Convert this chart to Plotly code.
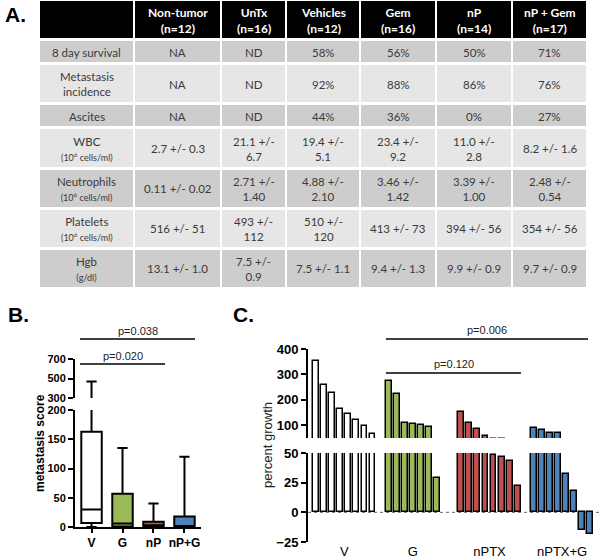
import plotly.graph_objects as go

# ---- panel A: table ----
tbl_header = ["", "Non-tumor<br>(n=12)", "UnTx<br>(n=16)", "Vehicles<br>(n=12)",
              "Gem<br>(n=16)", "nP<br>(n=14)", "nP + Gem<br>(n=17)"]
sub = "<span style='font-size:9px'>(10<sup>6</sup> cells/ml)</span>"
row_labels = ["8 day survival", "Metastasis<br>incidence", "Ascites",
              "WBC<br>" + sub, "Neutrophils<br>" + sub, "Platelets<br>" + sub,
              "Hgb<br><span style='font-size:9px'>(g/dl)</span>"]
non_tumor = ["NA", "NA", "NA", "2.7 +/- 0.3", "0.11 +/- 0.02", "516 +/- 51", "13.1 +/- 1.0"]
untx = ["ND", "ND", "ND", "21.1 +/-<br>6.7", "2.71 +/-<br>1.40", "493 +/-<br>112", "7.5 +/-<br>0.9"]
vehicles = ["58%", "92%", "44%", "19.4 +/-<br>5.1", "4.88 +/-<br>2.10", "510 +/-<br>120", "7.5 +/- 1.1"]
gem = ["56%", "88%", "36%", "23.4 +/-<br>9.2", "3.46 +/-<br>1.42", "413 +/- 73", "9.4 +/- 1.3"]
np_ = ["50%", "86%", "0%", "11.0 +/-<br>2.8", "3.39 +/-<br>1.00", "394 +/- 56", "9.9 +/- 0.9"]
np_gem = ["71%", "76%", "27%", "8.2 +/- 1.6", "2.48 +/-<br>0.54", "354 +/- 56", "9.7 +/- 0.9"]

# ---- panel B: box plot (metastasis score) ----
box_groups = ["V", "G", "nP", "nP+G"]
box_q1 = [7, 1, 0, 0]
box_median = [30, 6, 3, 0]
box_q3 = [163, 57, 9, 18]
box_low = [0, 0, 0, 0]
box_high = [470, 135, 40, 120]
box_colors = ["white", "#9bbb59", "#c0504d", "#4f81bd"]

# ---- panel C: waterfall (percent growth) ----
growth_labels = ["V", "G", "nPTX", "nPTX+G"]
growth_V = [352, 260, 228, 164, 144, 120, 96, 64]
growth_G = [275, 222, 110, 104, 102, 95, 29]
growth_nP = [152, 108, 84, 56, 48, 47, 43, 22]
growth_nPG = [88, 81, 70, 68, 32, 18, -15, -18]
growth_colors = ["white", "#9bbb59", "#c0504d", "#4f81bd"]
gaps = [1, 2, 1]  # empty slots between groups

fig = go.Figure()

# table drawn as a heatmap of cells (column widths / row heights in px)
col_w = [95, 87, 65, 74, 76, 76, 75]
row_h = [40, 24, 40, 24, 40, 40, 40, 40]
x_edges = [sum(col_w[:i]) for i in range(len(col_w) + 1)]
y_edges = [sum(row_h[:i]) for i in range(len(row_h) + 1)]
columns = [row_labels, non_tumor, untx, vehicles, gem, np_, np_gem]
z = [[2] * len(col_w)] + [[1 - (r % 2)] * len(col_w) for r in range(len(row_labels))]

fig.add_trace(go.Heatmap(
    x=x_edges, y=y_edges, z=z, zmin=0, zmax=2, xgap=2, ygap=3,
    colorscale=[[0, "#e6e6e6"], [0.5, "#cdcdcd"], [1, "black"]],
    showscale=False, hoverinfo="skip", xaxis="x3", yaxis="y5"))

for c in range(len(col_w)):
    xm = (x_edges[c] + x_edges[c + 1]) / 2
    if tbl_header[c]:
        fig.add_annotation(text="<b>%s</b>" % tbl_header[c], x=xm,
                           y=(y_edges[0] + y_edges[1]) / 2, xref="x3", yref="y5",
                           showarrow=False, font=dict(family="Lato", size=12, color="white"))
    for r, val in enumerate(columns[c]):
        fig.add_annotation(text=val, x=xm, y=(y_edges[r + 1] + y_edges[r + 2]) / 2,
                           xref="x3", yref="y5", showarrow=False,
                           font=dict(family="Lato", size=11.5, color="#3a3a3a"))

# B: each box drawn on both halves of the broken axis
for i, g in enumerate(box_groups):
    for ya in ["y", "y2"]:
        fig.add_trace(go.Box(
            x=[g], q1=[box_q1[i]], median=[box_median[i]], q3=[box_q3[i]],
            lowerfence=[box_low[i]], upperfence=[box_high[i]],
            fillcolor=box_colors[i], line=dict(color="black", width=2),
            whiskerwidth=0.5, width=0.66, boxpoints=False,
            xaxis="x", yaxis=ya, showlegend=False, hoverinfo="skip"))

# C: bar positions in slots
groups = [growth_V, growth_G, growth_nP, growth_nPG]
pos = 0
centers = []
for k, vals in enumerate(groups):
    xs = list(range(pos, pos + len(vals)))
    centers.append((xs[0] + xs[-1]) / 2)
    for ya in ["y3", "y4"]:
        fig.add_trace(go.Bar(
            x=xs, y=vals, width=0.72,
            marker=dict(color=growth_colors[k], line=dict(color="black", width=1.5)),
            xaxis="x2", yaxis=ya, showlegend=False, hoverinfo="skip"))
    pos += len(vals)
    if k < len(gaps):
        pos += gaps[k]

tick_b = dict(family="Liberation Sans", size=11, color="black", weight="bold")
tick_c = dict(family="Liberation Sans", size=13, color="black", weight="bold")
yax_common = dict(showline=True, linecolor="black", linewidth=2, ticks="outside",
                  ticklen=5, tickwidth=2, tickcolor="black", showgrid=False,
                  zeroline=False, fixedrange=True, automargin=False)

fig.update_layout(
    template="none",
    width=600, height=560, margin=dict(l=0, r=0, t=0, b=0, pad=0),
    paper_bgcolor="white", plot_bgcolor="white",
    bargap=0, barmode="overlay", showlegend=False,
    xaxis3=dict(domain=[39/600, 587/600], range=[0, x_edges[-1]], anchor="y5",
                visible=False, fixedrange=True, automargin=False),
    yaxis5=dict(domain=[1 - 289/560, 1.0], range=[y_edges[-1], 0], anchor="x3",
                visible=False, fixedrange=True, automargin=False),
    xaxis=dict(domain=[75/600, 201/600], anchor="y", type="category",
               categoryorder="array", categoryarray=box_groups,
               showline=True, linecolor="black", linewidth=2, ticks="outside",
               ticklen=4, tickwidth=2, tickcolor="black", showgrid=False,
               tickfont=dict(tick_b, size=12), automargin=False, fixedrange=True),
    yaxis=dict(domain=[1 - 527/560, 1 - 410/560], range=[0, 200], anchor="x",
               tickvals=[0, 50, 100, 150, 200], tickfont=tick_b, **yax_common),
    yaxis2=dict(domain=[1 - 398/560, 1 - 359/560], range=[300, 700], anchor="x",
                tickvals=[300, 500, 700], tickfont=tick_b, **yax_common),
    xaxis2=dict(domain=[308/600, 1.0], anchor="y4", range=[-1, 35.2],
                showline=False, showgrid=False, zeroline=False, ticks="",
                tickvals=centers, ticktext=growth_labels, automargin=False,
                fixedrange=True,
                tickfont=dict(family="Liberation Sans", size=13, color="black")),
    yaxis3=dict(domain=[1 - 438/560, 1 - 349/560], range=[50, 400], anchor="x2",
                tickvals=[100, 200, 300, 400], tickfont=tick_c, **yax_common),
    yaxis4=dict(domain=[1 - 542/560, 1 - 453/560], range=[-25, 50], anchor="x2",
                tickvals=[-25, 0, 25, 50], tickfont=tick_c, **yax_common),
)

# dotted zero line behind the bars
fig.add_shape(type="line", xref="x2 domain", x0=0, x1=1, yref="y4", y0=0, y1=0,
              line=dict(color="#666666", width=1, dash="dot"), layer="below")

# significance brackets
for x0, x1, y, txt, ty in [(80, 195, 339, "p=0.038", 331), (80, 165, 364, "p=0.020", 356),
                           (386, 588, 339, "p=0.006", 330), (386, 521, 373, "p=0.120", 364)]:
    fig.add_shape(type="line", xref="paper", yref="paper", x0=x0/600, x1=x1/600,
                  y0=1 - y/560, y1=1 - y/560, line=dict(color="black", width=1.5))
    fig.add_annotation(text=txt, xref="paper", yref="paper", x=(x0 + x1) / 2 / 600,
                       y=1 - ty/560, showarrow=False, xanchor="center", yanchor="middle",
                       font=dict(family="Liberation Sans", size=11, color="#222222"))

# panel letters and axis titles
for txt, x, y in [("A.", 15, 14), ("B.", 18, 314), ("C.", 243, 314)]:
    fig.add_annotation(text="<b>%s</b>" % txt, xref="paper", yref="paper", x=x/600,
                       y=1 - y/560, showarrow=False, xanchor="center", yanchor="middle",
                       font=dict(family="Liberation Sans", size=21, color="black"))
fig.add_annotation(text="<b>metastasis score</b>", xref="paper", yref="paper",
                   x=40/600, y=1 - 443/560, textangle=-90, showarrow=False,
                   xanchor="center", yanchor="middle",
                   font=dict(family="Liberation Sans", size=12, color="black"))
fig.add_annotation(text="percent growth", xref="paper", yref="paper",
                   x=267/600, y=1 - 445/560, textangle=-90, showarrow=False,
                   xanchor="center", yanchor="middle",
                   font=dict(family="Liberation Sans", size=13, color="#222222"))

fig.write_html("out.html", config={"displayModeBar": False},
               post_script="document.body.style.margin='0';")
